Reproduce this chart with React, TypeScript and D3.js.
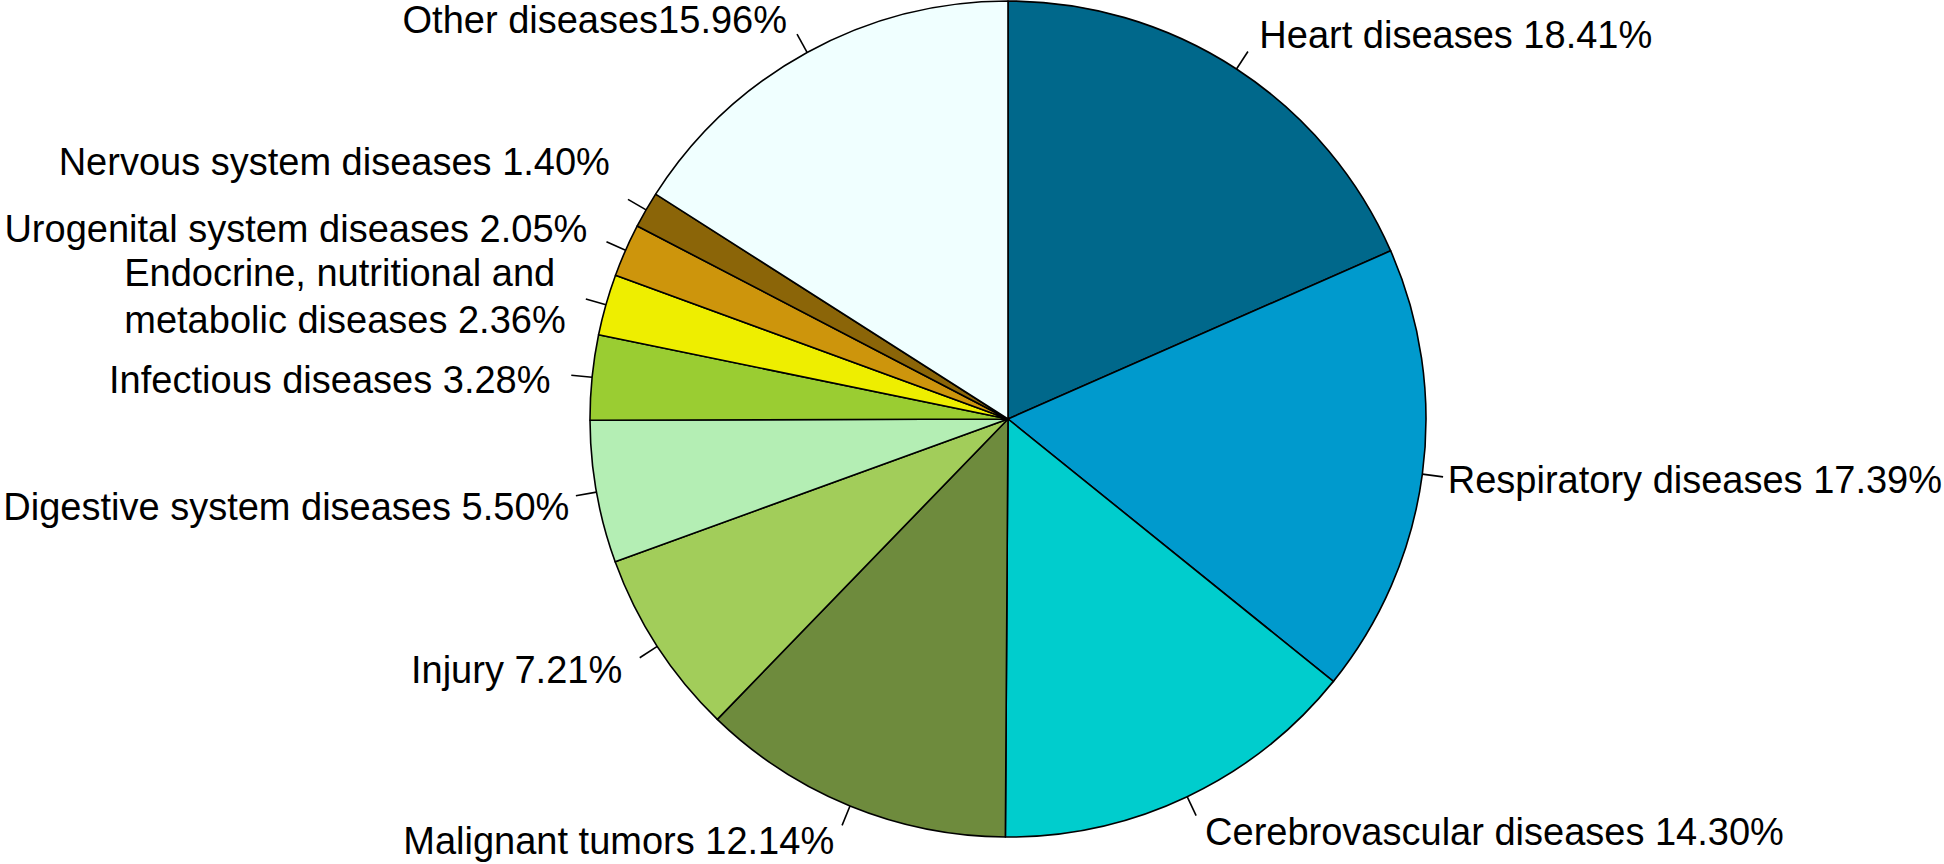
import React from 'react';
import * as d3 from 'd3';

const categories: string[] = [
  'Heart diseases',
  'Respiratory diseases',
  'Cerebrovascular diseases',
  'Malignant tumors',
  'Injury',
  'Digestive system diseases',
  'Infectious diseases',
  'Endocrine, nutritional and \nmetabolic diseases',
  'Urogenital system diseases',
  'Nervous system diseases',
  'Other diseases',
];
const values: number[] = [18.41, 17.39, 14.3, 12.14, 7.21, 5.5, 3.28, 2.36, 2.05, 1.4, 15.96];
const separators: string[] = [' ', ' ', ' ', ' ', ' ', ' ', ' ', ' ', ' ', ' ', ''];
const colors: string[] = [
  '#00688B', '#009ACD', '#00CDCD', '#6E8B3D', '#A2CD5A', '#B4EEB4',
  '#9ACD32', '#EEEE00', '#CD950C', '#8B6508', '#F0FFFF',
];
// label nudges (px) as placed in the reference to avoid overlaps / clipping
const labelNudgeX: number[] = [0, -16, 0, 0, 0, 14, 0, 0, 0, 0, 0];
const labelNudgeY: number[] = [0, 0, -3, -4, 0, 7, 6, 3, -5, -28, 4];

const W = 1944;
const H = 864;
const CX = 1008;
const CY = 419;
const R = 418;
const FONT = 38;
const LINE_H = 47;

export default function App() {
  const pie = d3.pie<number>().sort(null).value((d) => d).startAngle(0).endAngle(2 * Math.PI);
  const arcs = pie(values);
  const arcGen = d3.arc<d3.PieArcDatum<number>>().innerRadius(0).outerRadius(R);

  return (
    <svg
      width={W}
      height={H}
      style={{ position: 'absolute', left: 0, top: 0, background: '#fff' }}
      fontFamily="'Liberation Sans', Arial, Helvetica, sans-serif"
    >
      <g transform={`translate(${CX},${CY})`}>
        {arcs.map((a, i) => (
          <path key={i} d={arcGen(a) || ''} fill={colors[i]} stroke="#000" strokeWidth={1.6} strokeLinejoin="round" />
        ))}
        {arcs.map((a, i) => {
          const mid = (a.startAngle + a.endAngle) / 2;
          const sx = Math.sin(mid);
          const sy = -Math.cos(mid);
          const x1 = R * sx, y1 = R * sy;
          const x2 = 1.05 * R * sx, y2 = 1.05 * R * sy;
          const tx = 1.1 * R * sx + labelNudgeX[i];
          const ty = 1.1 * R * sy + labelNudgeY[i];
          const label = `${categories[i]}${separators[i]}${values[i].toFixed(2)}%`;
          const lines = label.split('\n');
          const anchor = sx < 0 ? 'end' : 'start';
          const y0 = ty - ((lines.length - 1) * LINE_H) / 2 + FONT * 0.36;
          return (
            <g key={`l${i}`}>
              <line x1={x1} y1={y1} x2={x2} y2={y2} stroke="#000" strokeWidth={1.6} />
              <text
                x={tx}
                y={y0}
                textAnchor={anchor}
                fontSize={FONT}
                fill="#000"
                style={{ whiteSpace: 'pre' }}
              >
                {lines.map((ln, k) => (
                  <tspan key={k} x={tx} y={y0 + k * LINE_H}>
                    {ln}
                  </tspan>
                ))}
              </text>
            </g>
          );
        })}
      </g>
    </svg>
  );
}
